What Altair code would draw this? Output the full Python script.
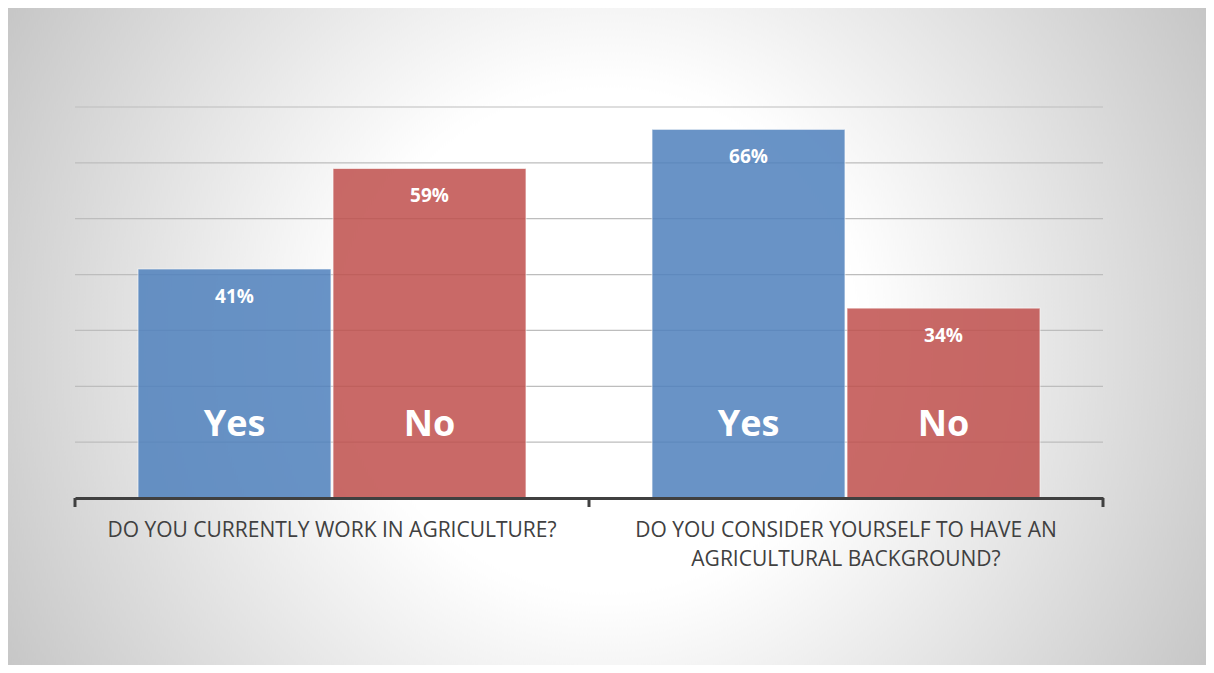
import altair as alt
import pandas as pd

# ---- data ----
questions = ["DO YOU CURRENTLY WORK IN AGRICULTURE?",
             "DO YOU CONSIDER YOURSELF TO HAVE AN|AGRICULTURAL BACKGROUND?"]
answers = ["Yes", "No"]
yes_values = [41, 66]
no_values = [59, 34]
grid_values = [10, 20, 30, 40, 50, 60, 70]
boundaries = [0, 1, 2]

rows = []
for q, y, n in zip(questions, yes_values, no_values):
    rows.append({"question": q, "answer": "Yes", "value": y})
    rows.append({"question": q, "answer": "No", "value": n})
df = pd.DataFrame(rows)
df["label"] = df["value"].astype(str) + "%"

W, H = 1028, 391
PL, PT, PR, PB = 67, 99, 103, 167
FONT = "Open Sans"

# ---- background (radial gradient, square so it stays circular) ----
cx, cy = (W + PL + PR) / 2 - PL, (H + PT + PB) / 2 - PT + 4
half = 700
bg = alt.Chart(pd.DataFrame({"k": [0]})).mark_rect(
    fill={
        "gradient": "radial",
        "x1": 0.5, "y1": 0.5, "r1": 0,
        "x2": 0.5, "y2": 0.5, "r2": 0.5,
        "stops": [
            {"offset": 0, "color": "#ffffff"},
            {"offset": 0.36, "color": "#ffffff"},
            {"offset": 1, "color": "#c4c4c4"},
        ],
    }
).encode(
    x=alt.value(cx - half), x2=alt.value(cx + half),
    y=alt.value(cy - half), y2=alt.value(cy + half),
)

yscale = alt.Scale(domain=[0, 70], nice=False, zero=True)

grid = alt.Chart(pd.DataFrame({"g": grid_values})).mark_rule(
    color="#bdbdbd", strokeWidth=1.2
).encode(y=alt.Y("g:Q", scale=yscale, axis=None))

xscale = alt.Scale(domain=questions, paddingInner=0, paddingOuter=0)
xoff_scale = alt.Scale(domain=answers, paddingInner=0.0103, paddingOuter=0.323)

xenc = alt.X(
    "question:N", scale=xscale, sort=questions, title=None,
    axis=alt.Axis(
        labelAngle=0, labelFont=FONT, labelFontSize=21, labelColor="#404040",
        labelPadding=21, labelLineHeight=29, labelExpr="split(datum.label, '|')",
        ticks=False, domainColor="#404040", domainWidth=3, labelLimit=700,
        zindex=1, labelBaseline="top",
    ),
)
xenc_plain = alt.X("question:N", scale=xscale, sort=questions, title=None, axis=None)
xoff = alt.XOffset("answer:N", scale=xoff_scale, sort=answers)

base = alt.Chart(df)

bars = base.mark_bar(
    opacity=0.85, stroke="#ffffff", strokeWidth=1.2, strokeOpacity=0.6
).encode(
    x=xenc, xOffset=xoff,
    y=alt.Y("value:Q", scale=yscale, axis=None),
    color=alt.Color("answer:N", scale=alt.Scale(domain=answers, range=["#4f81bd", "#c0504d"]), legend=None),
)

pct = base.mark_text(
    font=FONT, fontSize=19, fontWeight="bold", color="#ffffff", baseline="middle", dy=28
).encode(
    x=xenc_plain, xOffset=xoff,
    y=alt.Y("value:Q", scale=yscale, axis=None),
    text="label:N",
)

names = base.mark_text(
    font=FONT, fontSize=36, fontWeight="bold", color="#ffffff", baseline="middle", dy=-73
).encode(
    x=xenc_plain, xOffset=xoff,
    y=alt.Y("base:Q", scale=yscale, axis=None),
    text="answer:N",
).transform_calculate(base="0")

ticks = alt.Chart(pd.DataFrame({"b": boundaries})).mark_rule(
    color="#404040", strokeWidth=3
).encode(
    x=alt.X("b:Q", scale=alt.Scale(domain=[0, 2], nice=False, zero=False), axis=None),
    y=alt.value(H), y2=alt.value(H + 9),
)

chart = alt.layer(bg, grid, bars, pct, names, ticks).resolve_scale(
    x="independent"
).properties(
    width=W, height=H,
    autosize=alt.AutoSizeParams(type="none"),
    padding={"left": PL, "top": PT, "right": PR, "bottom": PB},
    background="#ffffff",
).configure_view(stroke=None)

chart.save("out.html", embed_options={"renderer": "svg", "actions": False})
